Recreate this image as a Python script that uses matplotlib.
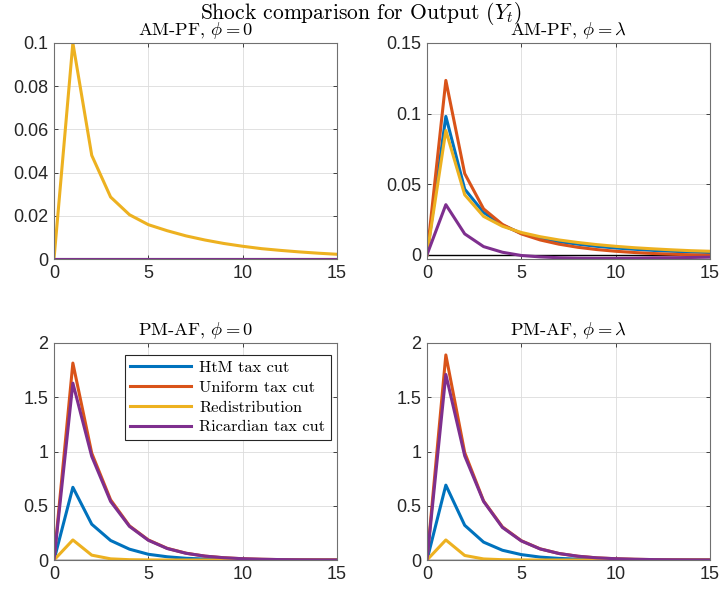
import numpy as np
import matplotlib
matplotlib.use('Agg')
import matplotlib.pyplot as plt
from matplotlib.ticker import FormatStrFormatter

# Horizon
t = list(range(16))

labels = ['HtM tax cut', 'Uniform tax cut', 'Redistribution', 'Ricardian tax cut']
colors = ['#0072BD', '#D95319', '#EDB120', '#7E2F8E']

# AM-PF, phi = 0
htm_ampf0 = [0.0] * 16
uni_ampf0 = [0.0] * 16
red_ampf0 = [0, 0.1, 0.048, 0.0287, 0.0205, 0.0159, 0.0131, 0.0107, 0.0088,
             0.0072, 0.0059, 0.0048, 0.0040, 0.0033, 0.0027, 0.0022]
ric_ampf0 = [0.0] * 16

# AM-PF, phi = lambda
htm_ampfl = [0, 0.098, 0.0465, 0.030, 0.021, 0.0152, 0.0117, 0.0093, 0.0075,
             0.0060, 0.0048, 0.0039, 0.0031, 0.0025, 0.0020, 0.0016]
uni_ampfl = [0, 0.1235, 0.0575, 0.0325, 0.0215, 0.0148, 0.0105, 0.0075, 0.0053,
             0.0037, 0.0025, 0.0016, 0.0009, 0.0004, 0.0, -0.0003]
red_ampfl = [0, 0.088, 0.0425, 0.0272, 0.0202, 0.0158, 0.0128, 0.0105, 0.0087,
             0.0072, 0.0060, 0.0050, 0.0042, 0.0035, 0.0029, 0.0025]
ric_ampfl = [0, 0.0355, 0.0148, 0.0058, 0.0018, -0.0005, -0.0015, -0.0021, -0.0024,
             -0.0025, -0.0025, -0.0024, -0.0022, -0.0021, -0.0019, -0.0017]

# PM-AF, phi = 0
htm_pmaf0 = [0, 0.67, 0.33, 0.18, 0.10, 0.053, 0.030, 0.016, 0.009,
             0.005, 0.003, 0.0015, 0.001, 0.0005, 0.0003, 0.0002]
uni_pmaf0 = [0, 1.815, 0.985, 0.555, 0.315, 0.185, 0.108, 0.063, 0.036,
             0.021, 0.012, 0.007, 0.004, 0.0024, 0.0014, 0.0008]
red_pmaf0 = [0, 0.185, 0.045, 0.011, 0.003, 0.001, 0.0003, 0.0001, 0,
             0, 0, 0, 0, 0, 0, 0]
ric_pmaf0 = [0, 1.63, 0.955, 0.54, 0.31, 0.182, 0.106, 0.062, 0.036,
             0.021, 0.012, 0.007, 0.004, 0.0024, 0.0014, 0.0008]

# PM-AF, phi = lambda
htm_pmafl = [0, 0.69, 0.32, 0.165, 0.09, 0.05, 0.027, 0.015, 0.008,
             0.0045, 0.0025, 0.0014, 0.0008, 0.0004, 0.0002, 0.0001]
uni_pmafl = [0, 1.89, 0.99, 0.545, 0.305, 0.178, 0.103, 0.060, 0.035,
             0.020, 0.012, 0.007, 0.004, 0.0024, 0.0014, 0.0008]
red_pmafl = [0, 0.185, 0.042, 0.010, 0.003, 0.001, 0.0003, 0.0001, 0,
             0, 0, 0, 0, 0, 0, 0]
ric_pmafl = [0, 1.71, 0.96, 0.54, 0.30, 0.176, 0.102, 0.060, 0.035,
             0.020, 0.012, 0.007, 0.004, 0.0024, 0.0014, 0.0008]

panels = [
    (r'AM-PF, $\phi = 0$', [htm_ampf0, uni_ampf0, red_ampf0, ric_ampf0],
     (0, 0.1), [0, 0.02, 0.04, 0.06, 0.08, 0.1]),
    (r'AM-PF, $\phi = \lambda$', [htm_ampfl, uni_ampfl, red_ampfl, ric_ampfl],
     (-0.003, 0.15), [0, 0.05, 0.1, 0.15]),
    (r'PM-AF, $\phi = 0$', [htm_pmaf0, uni_pmaf0, red_pmaf0, ric_pmaf0],
     (0, 2), [0, 0.5, 1, 1.5, 2]),
    (r'PM-AF, $\phi = \lambda$', [htm_pmafl, uni_pmafl, red_pmafl, ric_pmafl],
     (0, 2), [0, 0.5, 1, 1.5, 2]),
]

plt.rcParams.update({
    'mathtext.fontset': 'cm',
    'font.family': ['Liberation Sans', 'DejaVu Sans'],
    'axes.unicode_minus': False,
})

fig = plt.figure(figsize=(7.21, 5.93), dpi=100)

# axes boxes in figure fraction [left, bottom, width, height]
boxes = [
    [0.0749, 0.5632, 0.3925, 0.3643],
    [0.5922, 0.5632, 0.3925, 0.3643],
    [0.0749, 0.0556, 0.3925, 0.3660],
    [0.5922, 0.0556, 0.3925, 0.3660],
]

for i, (title, series, ylim, yticks) in enumerate(panels):
    ax = fig.add_axes(boxes[i])
    ax.axhline(0, color='black', lw=1.0, zorder=1)
    for s, c, lab in zip(series, colors, labels):
        ax.plot(t, s, color=c, lw=2.2, label=lab, zorder=2)
    ax.set_xlim(0, 15)
    ax.set_ylim(*ylim)
    ax.set_xticks([0, 5, 10, 15])
    ax.set_yticks(yticks)
    ax.yaxis.set_major_formatter(FormatStrFormatter('%g'))
    ax.grid(True, color='#dcdcdc', lw=0.6)
    ax.set_axisbelow(True)
    for sp in ax.spines.values():
        sp.set_color('#707070')
        sp.set_linewidth(0.8)
    ax.tick_params(direction='in', length=3, width=0.6, color='#262626',
                   labelsize=13, labelcolor='#262626', top=True, right=True, pad=4)
    ax.set_title(title, fontfamily='cmr10', fontsize=13.3, pad=5.5)
    if i == 2:
        leg = ax.legend(loc='upper right', bbox_to_anchor=(0.99, 0.96),
                        prop={'family': 'cmr10', 'size': 11.8},
                        handlelength=3.7, fancybox=False, framealpha=1,
                        edgecolor='#262626', borderpad=0.35, labelspacing=0.32,
                        handletextpad=0.5, borderaxespad=0.2)
        leg.get_frame().set_linewidth(0.8)

fig.text(0.5, 0.978, r'Shock comparison for Output ($Y_t$)', ha='center', va='center',
         fontfamily='cmr10', fontsize=15.5)

fig.savefig('out.png', dpi=100, facecolor='white')
